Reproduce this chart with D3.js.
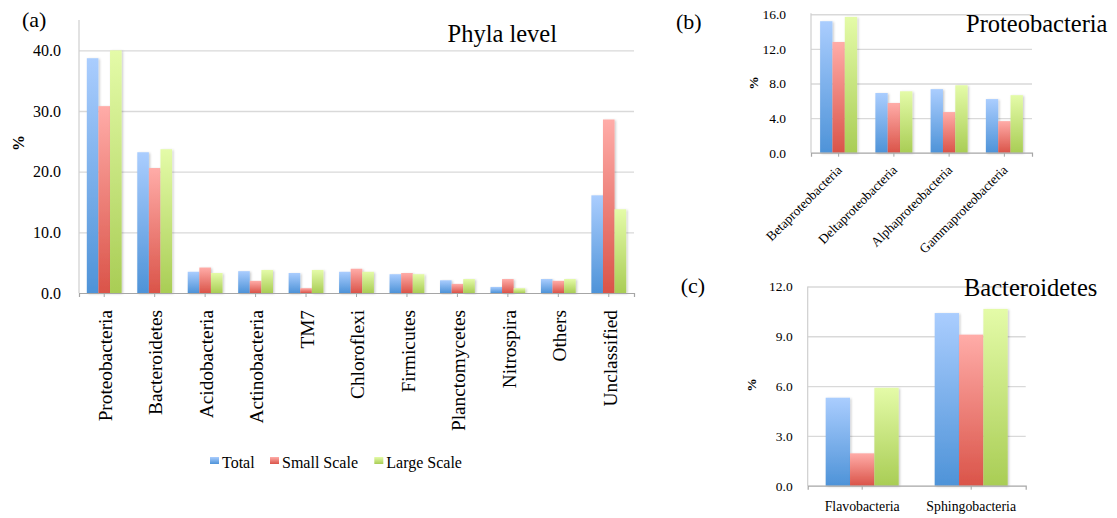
<!DOCTYPE html>
<html>
<head>
<meta charset="utf-8">
<script src="https://cdn.jsdelivr.net/npm/d3@7"></script>
<style>
  html, body { margin: 0; padding: 0; background: #ffffff; }
  svg { display: block; }
  svg text { font-family: "Liberation Serif", "Times New Roman", serif !important; fill: #000; }
</style>
</head>
<body>
<svg id="chart" width="1117" height="518" font-family="Liberation Serif, Times New Roman, serif"></svg>
<script>
// Relative abundance (%) of bacterial groups in three sample sets
const seriesNames = ["Total", "Small Scale", "Large Scale"];

// (a) phyla level
const phyla = ["Proteobacteria", "Bacteroidetes", "Acidobacteria", "Actinobacteria", "TM7",
  "Chloroflexi", "Firmicutes", "Planctomycetes", "Nitrospira", "Others", "Unclassified"];
const phylaTotal = [38.7, 23.2, 3.5, 3.6, 3.3, 3.5, 3.1, 2.1, 1.0, 2.3, 16.1];
const phylaSmall = [30.8, 20.6, 4.2, 2.0, 0.8, 4.0, 3.3, 1.5, 2.3, 2.0, 28.6];
const phylaLarge = [40.0, 23.7, 3.3, 3.8, 3.8, 3.5, 3.1, 2.3, 0.8, 2.3, 13.8];
const phylaTicks = [0, 10, 20, 30, 40];

// (b) classes within Proteobacteria
const proteoClasses = ["Betaproteobacteria", "Deltaproteobacteria", "Alphaproteobacteria", "Gammaproteobacteria"];
const proteoTotal = [15.2, 6.9, 7.35, 6.2];
const proteoSmall = [12.8, 5.75, 4.7, 3.65];
const proteoLarge = [15.7, 7.1, 7.8, 6.65];
const proteoTicks = [0, 4, 8, 12, 16];

// (c) classes within Bacteroidetes
const bactClasses = ["Flavobacteria", "Sphingobacteria"];
const bactTotal = [5.3, 10.4];
const bactSmall = [1.95, 9.1];
const bactLarge = [5.9, 10.65];
const bactTicks = [0, 3, 6, 9, 12];

const FONT = '"Liberation Serif", "Times New Roman", serif';
const svg = d3.select("#chart");
const defs = svg.append("defs");

// vertical gradients per series: light at the top, saturated at the bottom
const gradStops = [
  ["#aacdfe", "#4e93d8"],
  ["#ffaca8", "#da5449"],
  ["#e4fba8", "#a9cd55"]
];
gradStops.forEach((s, i) => {
  const g = defs.append("linearGradient").attr("id", "grad" + i)
    .attr("x1", 0).attr("y1", 0).attr("x2", 0).attr("y2", 1);
  g.append("stop").attr("offset", "0%").attr("stop-color", s[0]);
  g.append("stop").attr("offset", "100%").attr("stop-color", s[1]);
});
const shadow = defs.append("filter").attr("id", "barShadow")
  .attr("x", "-20%").attr("y", "-5%").attr("width", "150%").attr("height", "115%");
shadow.append("feDropShadow").attr("dx", 1.2).attr("dy", 0.8)
  .attr("stdDeviation", 0.8).attr("flood-color", "#000").attr("flood-opacity", 0.22);

const fmt = d3.format(".1f");

function drawPanel(cfg) {
  const g = svg.append("g");
  const x = d3.scaleBand().domain(cfg.cats).range([cfg.left, cfg.right])
    .paddingInner(cfg.pad).paddingOuter(cfg.pad / 2);
  const xs = d3.scaleBand().domain(d3.range(3)).range([0, x.bandwidth()]);
  const y = d3.scaleLinear().domain([0, cfg.max]).range([cfg.bottom, cfg.top]);

  // gridlines
  g.append("g")
    .attr("transform", `translate(${cfg.left},0)`)
    .call(d3.axisLeft(y).tickValues(cfg.ticks.filter(t => t > 0)).tickSize(-(cfg.right - cfg.left)).tickFormat(""))
    .call(a => a.select(".domain").remove())
    .call(a => a.selectAll("line").attr("stroke", "#d9d9d9").attr("stroke-width", 1.4));

  // y tick labels
  g.append("g")
    .attr("transform", `translate(${cfg.left - cfg.labelGap},0)`)
    .call(d3.axisLeft(y).tickValues(cfg.ticks).tickSize(0).tickPadding(0).tickFormat(fmt))
    .attr("font-family", FONT)
    .call(a => a.select(".domain").remove())
    .call(a => a.selectAll("text")
      .style("font-family", FONT)
      .style("font-size", cfg.tickFont + "px").attr("fill", "#000"));

  // vertical axis line
  g.append("line")
    .attr("x1", cfg.left).attr("x2", cfg.left)
    .attr("y1", cfg.top - cfg.axisExtra).attr("y2", cfg.bottom)
    .attr("stroke", "#cfcfcf").attr("stroke-width", 1.2);

  // bars
  const series = [cfg.total, cfg.small, cfg.large];
  const groups = g.append("g").selectAll("g").data(cfg.cats).join("g")
    .attr("transform", d => `translate(${x(d)},0)`);
  groups.selectAll("rect")
    .data((d, i) => series.map((s, k) => ({ k, v: s[i] })))
    .join("rect")
    .attr("x", d => xs(d.k))
    .attr("width", xs.bandwidth())
    .attr("y", d => y(d.v))
    .attr("height", d => y(0) - y(d.v))
    .attr("fill", d => `url(#grad${d.k})`)
    .attr("filter", "url(#barShadow)");

  // category axis
  const xa = g.append("g")
    .attr("transform", `translate(0,${cfg.bottom})`)
    .call(d3.axisBottom(x).tickSize(4).tickSizeOuter(4).tickFormat(""));
  xa.select(".domain").attr("stroke", "#a6a6a6").attr("stroke-width", 1.2);
  xa.selectAll(".tick line").attr("stroke", "#a6a6a6");

  // category labels
  const lab = g.append("g").selectAll("text").data(cfg.cats).join("text")
    .text(d => d)
    .style("font-family", FONT)
    .style("font-size", cfg.catFont + "px");
  if (cfg.labelMode === "vertical") {
    lab.attr("text-anchor", "end")
      .attr("transform", d => `translate(${x(d) + x.bandwidth() / 2},${cfg.bottom + cfg.labelOffset}) rotate(-90)`)
      .attr("dy", "0.4em");
  } else if (cfg.labelMode === "diagonal") {
    lab.attr("text-anchor", "end")
      .attr("transform", d => `translate(${x(d) + x.bandwidth() / 2 + 4},${cfg.bottom + cfg.labelOffset}) rotate(-45)`);
  } else {
    lab.attr("text-anchor", "middle")
      .attr("x", d => x(d) + x.bandwidth() / 2)
      .attr("y", cfg.bottom + cfg.labelOffset);
  }

  // y axis title
  svg.append("text")
    .attr("transform", `translate(${cfg.pctX},${cfg.pctY}) rotate(-90)`)
    .attr("text-anchor", "middle").attr("dy", "0.35em")
    .style("font-family", FONT)
    .style("font-size", cfg.pctFont + "px").style("font-weight", "bold")
    .text("%");

  // panel letter and title
  svg.append("text").attr("x", cfg.letterX).attr("y", cfg.letterY)
    .style("font-family", FONT).style("font-size", "22px").text(cfg.letter);
  svg.append("text").attr("x", cfg.titleX).attr("y", cfg.titleY)
    .style("font-family", FONT).style("font-size", "24.5px").text(cfg.title);
}

drawPanel({
  cats: phyla, total: phylaTotal, small: phylaSmall, large: phylaLarge, ticks: phylaTicks,
  max: 45, left: 79, right: 634, top: 20, bottom: 293, axisExtra: 0, pad: 0.31,
  labelGap: 18, tickFont: 16, catFont: 19.3, labelMode: "vertical", labelOffset: 17,
  pctX: 18.5, pctY: 143, pctFont: 16,
  letter: "(a)", letterX: 22, letterY: 27, title: "Phyla level", titleX: 447.5, titleY: 41.5
});

drawPanel({
  cats: proteoClasses, total: proteoTotal, small: proteoSmall, large: proteoLarge, ticks: proteoTicks,
  max: 16, left: 811, right: 1032, top: 14.3, bottom: 152.7, axisExtra: 1, pad: 0.33,
  labelGap: 25, tickFont: 13.5, catFont: 13.3, labelMode: "diagonal", labelOffset: 18,
  pctX: 753, pctY: 83, pctFont: 13.5,
  letter: "(b)", letterX: 676, letterY: 29, title: "Proteobacteria", titleX: 966, titleY: 31.5
});

drawPanel({
  cats: bactClasses, total: bactTotal, small: bactSmall, large: bactLarge, ticks: bactTicks,
  max: 12, left: 807.7, right: 1025.7, top: 286.5, bottom: 485.7, axisExtra: 0, pad: 0.33,
  labelGap: 15, tickFont: 13.5, catFont: 13.8, labelMode: "horizontal", labelOffset: 25.5,
  pctX: 751, pctY: 385, pctFont: 13.5,
  letter: "(c)", letterX: 680.7, letterY: 293, title: "Bacteroidetes", titleX: 964, titleY: 296
});

// legend for the three sample sets
const legendX = [210, 270, 374.3];
const legend = svg.append("g").selectAll("g").data(seriesNames).join("g")
  .attr("transform", (d, i) => `translate(${legendX[i]},457)`);
legend.append("rect").attr("width", 9).attr("height", 7)
  .attr("fill", (d, i) => `url(#grad${i})`);
legend.append("text").attr("x", 12).attr("y", 11)
  .style("font-family", FONT)
  .style("font-size", "16px").text(d => d);
</script>
</body>
</html>
